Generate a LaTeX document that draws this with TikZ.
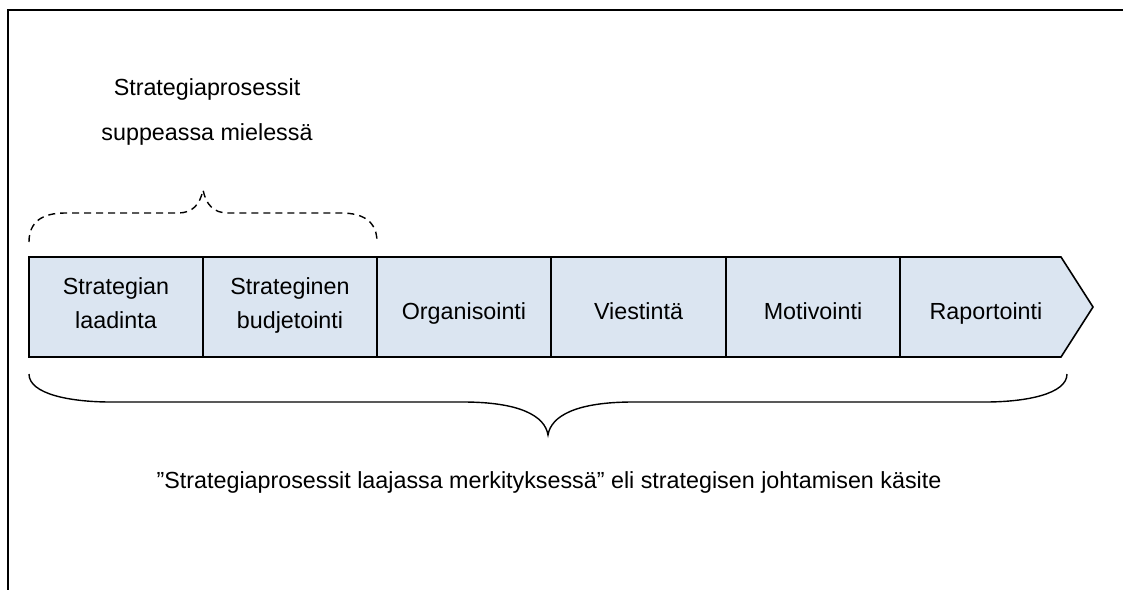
\documentclass[tikz,border=0pt]{standalone}
\usepackage{fontspec}
\setmainfont{Liberation Sans}
\begin{document}
\begin{tikzpicture}[x=1pt,y=-1pt,
  txt/.style={font=\fontsize{23.3}{34}\selectfont, inner sep=0pt, align=center},
  stage/.style={draw=black, line width=1.6pt, fill=stagefill,
    minimum width=174pt, minimum height=100pt, inner sep=0pt},
  label/.style={txt, anchor=base},
  edge/.style={line width=1.4pt},
]
\definecolor{stagefill}{RGB}{219,229,241}
\useasboundingbox (0,0) rectangle (1123,590);

% open frame: top and left sides only
\coordinate (ftr) at (1123,10);
\coordinate (ftl) at (8,10);
\coordinate (fbl) at (8,590);
\draw[line width=2pt] (ftr) -- (ftl) -- (fbl);

% process chain
\fill[stagefill] (900,257) -- (1061,257) -- (1093,307) -- (1061,357) -- (900,357) -- cycle;
\draw[line width=1.6pt] (900,257) -- (1061,257) -- (1093,307) -- (1061,357) -- (900,357);
\node[stage] (s1) at (116,307) {};
\node[stage] (s2) at (290,307) {};
\node[stage] (s3) at (464,307) {};
\node[stage] (s4) at (638.5,307) {};
\node[stage] (s5) at (813,307) {};

% stage texts
\node[label] (t1a) at (116,294) {Strategian};
\node[label] (t1b) at (116,328) {laadinta};
\node[label] (t2a) at (290,294) {Strateginen};
\node[label] (t2b) at (290,328) {budjetointi};
\node[label] (t3) at (464,319.5) {Organisointi};
\node[label] (t4) at (638.5,319.5) {Viestintä};
\node[label] (t5) at (813,319.5) {Motivointi};
\node[label] (t6) at (986,319.5) {Raportointi};

% narrow-sense brace (dashed) over the first two stages
\draw[edge, dash pattern=on 7pt off 5pt]
  (29,242) .. controls (29,222) and (42,213) .. (65,213) -- (178,213)
  .. controls (193,213) and (200,204) .. (203,190)
  .. controls (206,204) and (213,213) .. (228,213) -- (341,213)
  .. controls (364,213) and (377,222) .. (377,242);

% broad-sense brace under the whole chain
\draw[edge]
  (29,374) .. controls (29,394) and (70,402) .. (111,402) -- (463,402)
  .. controls (520,402) and (545,416) .. (548,435)
  .. controls (551,416) and (576,402) .. (633,402) -- (985,402)
  .. controls (1026,402) and (1067,394) .. (1067,374);

% labels
\node[label] (narrow1) at (207,95) {Strategiaprosessit};
\node[label] (narrow2) at (207,140) {suppeassa mielessä};
\node[label] (broad) at (549,488) {”Strategiaprosessit laajassa merkityksessä” eli strategisen johtamisen käsite};
\end{tikzpicture}
\end{document}
